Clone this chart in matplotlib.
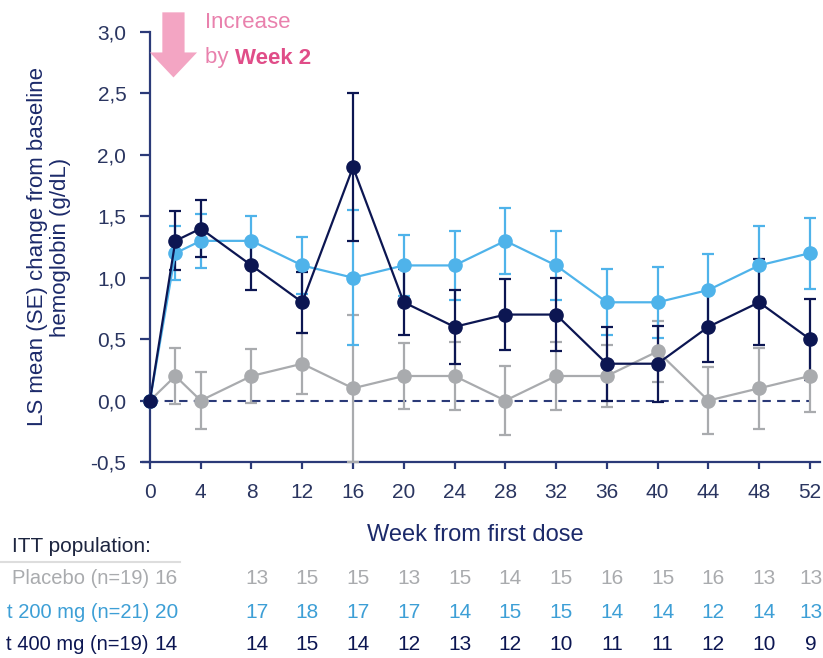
import numpy as np
import matplotlib.pyplot as plt
from matplotlib.ticker import FuncFormatter
from matplotlib.transforms import blended_transform_factory

plt.rcParams['font.family'] = ['Liberation Sans', 'DejaVu Sans']

# Semanas de visita y cambios medios (LS mean) con su error estandar
semanas = [0, 2, 4, 8, 12, 16, 20, 24, 28, 32, 36, 40, 44, 48, 52]

placebo = [0.0, 0.2, 0.0, 0.2, 0.3, 0.1, 0.2, 0.2, 0.0, 0.2, 0.2, 0.4, 0.0, 0.1, 0.2]
placebo_se = [0.0, 0.23, 0.23, 0.22, 0.25, 0.6, 0.27, 0.28, 0.28, 0.28, 0.25, 0.25, 0.27, 0.33, 0.29]

dosis_200 = [0.0, 1.2, 1.3, 1.3, 1.1, 1.0, 1.1, 1.1, 1.3, 1.1, 0.8, 0.8, 0.9, 1.1, 1.2]
dosis_200_se = [0.0, 0.22, 0.22, 0.2, 0.23, 0.55, 0.25, 0.28, 0.27, 0.28, 0.27, 0.29, 0.29, 0.32, 0.29]

dosis_400 = [0.0, 1.3, 1.4, 1.1, 0.8, 1.9, 0.8, 0.6, 0.7, 0.7, 0.3, 0.3, 0.6, 0.8, 0.5]
dosis_400_se = [0.0, 0.24, 0.23, 0.2, 0.25, 0.6, 0.27, 0.3, 0.29, 0.3, 0.3, 0.31, 0.29, 0.35, 0.33]

# Pacientes evaluables por visita (tabla inferior)
etiquetas = ['Placebo (n=19)', 't 200 mg (n=21)', 't 400 mg (n=19)']
n_placebo = [16, 13, 15, 15, 13, 15, 14, 15, 16, 15, 16, 13, 13]
n_200 = [20, 17, 18, 17, 17, 14, 15, 15, 14, 14, 12, 14, 13]
n_400 = [14, 14, 15, 14, 12, 13, 12, 10, 11, 11, 12, 10, 9]
semanas_tabla = [1.3, 8.4, 12.4, 16.4, 20.4, 24.4, 28.4, 32.4, 36.4, 40.4, 44.4, 48.4, 52.1]

navy = '#0c1652'
eje = '#2b3a78'
azul = '#4fb3ea'
gris = '#a9abae'

fig = plt.figure(figsize=(8.23, 6.58), dpi=100)
ax = fig.add_axes([143 / 823, 196 / 658, 677 / 823, 430 / 658])

series = [
    (placebo, placebo_se, gris),
    (dosis_200, dosis_200_se, azul),
    (dosis_400, dosis_400_se, navy),
]
for valores, se, color in series:
    ax.errorbar(semanas, valores, yerr=se, color=color, lw=1.6, marker='o',
                markersize=9.5, capsize=4.5, capthick=1.6, elinewidth=1.6,
                clip_on=False, zorder=3)

ax.plot([0, 52], [0, 0], ls=(0, (4, 3)), color=eje, lw=1.5, zorder=2)

ax.set_xlim(-0.55, 52.8)
ax.set_ylim(-0.5, 3.0)
ax.set_xticks(range(0, 53, 4))
ax.set_yticks(np.arange(-0.5, 3.01, 0.5))
ax.yaxis.set_major_formatter(FuncFormatter(lambda v, p: f'{v:.1f}'.replace('.', ',')))

ax.spines['left'].set_position(('data', 0))
for lado in ['top', 'right']:
    ax.spines[lado].set_visible(False)
for lado in ['left', 'bottom']:
    ax.spines[lado].set_color(eje)
    ax.spines[lado].set_linewidth(1.6)
ax.tick_params(axis='y', colors=eje, labelsize=15, length=7, width=1.6, pad=10,
               labelcolor='#2a3560')
ax.tick_params(axis='x', colors=eje, labelsize=15, length=5, width=1.6, pad=10,
               labelcolor='#2a3560')

fig.text(49 / 823, 1 - 247 / 658, 'LS mean (SE) change from baseline\nhemoglobin (g/dL)',
         fontsize=16, color='#1c2a6a', rotation=90, ha='center', va='center',
         multialignment='center', linespacing=1.1)

# Flecha y texto del aumento en la semana 2
ax.annotate('', xy=(1.85, 2.63), xytext=(1.85, 3.16), annotation_clip=False,
            arrowprops=dict(arrowstyle='simple,head_length=0.9,head_width=1.7,tail_width=0.8',
                            mutation_scale=20, fc='#f3a5c3', ec='none',
                            shrinkA=0, shrinkB=0))
fig.text(205 / 823, 1 - 22 / 658, 'Increase', fontsize=16, color='#e981ad', va='center')
t = fig.text(205 / 823, 1 - 58 / 658, 'by ', fontsize=16, color='#e981ad', va='center')
fig.canvas.draw()
bb = t.get_window_extent()
fig.text(bb.x1 / 823, 1 - 58 / 658, 'Week 2', fontsize=16, color='#e04d88',
         fontweight='bold', va='center')

# Tabla de pacientes
fig.text(475 / 823, 1 - 535 / 658, 'Week from first dose', fontsize=17,
         color='#1c2a6a', ha='center', va='center')
fig.text(12 / 823, 1 - 547 / 658, 'ITT population:', fontsize=15, color='#1d2540', va='center')
fig.add_artist(plt.Line2D([0, 180 / 823], [1 - 562 / 658] * 2, color='#dddddd', lw=1.5))

trans = blended_transform_factory(ax.transData, fig.transFigure)
filas = [(n_placebo, gris, 578), (n_200, '#3d9fd6', 612), (n_400, navy, 645)]
for (conteos, color, y), etiqueta in zip(filas, etiquetas):
    yf = 1 - y / 658
    fig.text(149 / 823, yf, etiqueta, fontsize=14.5, color=color, ha='right', va='center')
    for s, n in zip(semanas_tabla, conteos):
        ax.text(s, yf, str(n), transform=trans, fontsize=15, color=color,
                ha='center', va='center', clip_on=False)

fig.savefig('out.png', dpi=100, facecolor='white')
